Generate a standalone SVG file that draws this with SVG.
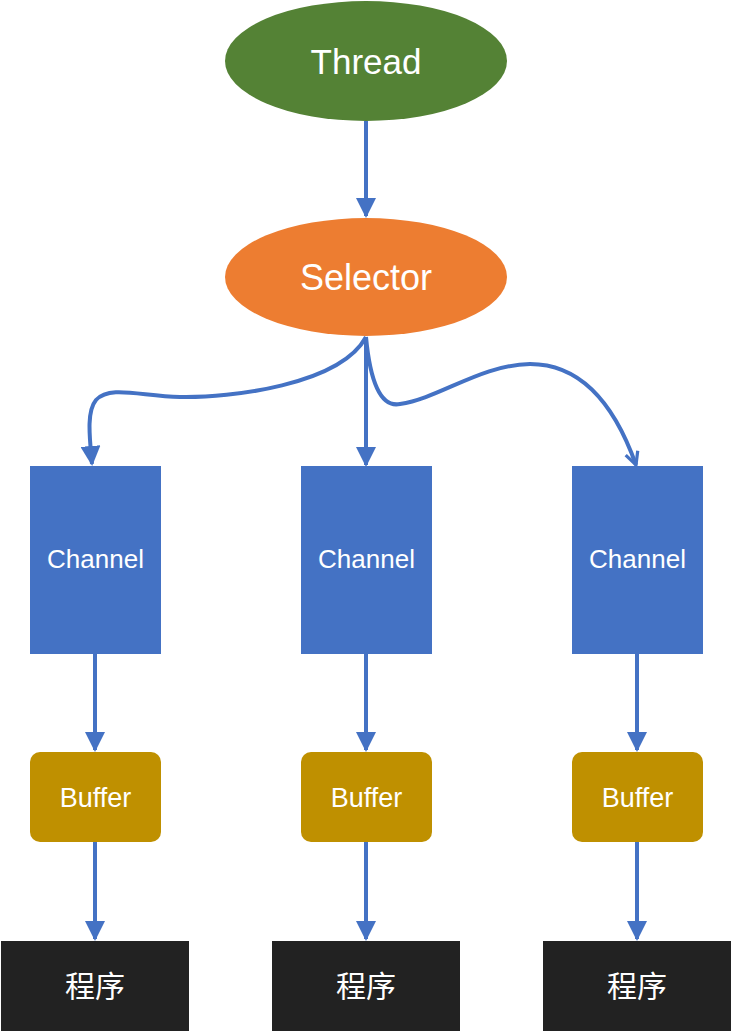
<svg xmlns="http://www.w3.org/2000/svg" width="733" height="1033" viewBox="0 0 733 1033">
<style>
.t{font-family:"Liberation Sans","Noto Sans CJK SC",sans-serif;fill:#fff;text-anchor:middle}
.c{fill:none;stroke:#4472C4;stroke-width:4}
.ch{fill:#4472C4}
.bf{fill:#BF9000}
.pg{fill:#222222}
</style>
<defs>
<marker id="ah" viewBox="0 0 10 10" refX="9" refY="5" markerWidth="5" markerHeight="5" markerUnits="strokeWidth" orient="auto">
<path d="M0,0 L10,5 L0,10 z" fill="#4472C4"/>
</marker>
<marker id="av" viewBox="0 0 10 10" refX="9" refY="5" markerWidth="4" markerHeight="4" markerUnits="strokeWidth" orient="auto">
<path d="M1,1 L9,5 L1,9" fill="none" stroke="#4472C4" stroke-width="2"/>
</marker>
</defs>
<rect width="733" height="1033" fill="#fff"/>
<g id="connectors">
<path class="c" d="M366,121 L366,216" marker-end="url(#ah)"/>
<path class="c" d="M366,337 L366,465" marker-end="url(#ah)"/>
<path class="c" d="M366,337 C340,385 230,398 180,397 C140,396 110,385 96,400 C86,412 90,440 92,464" marker-end="url(#ah)"/>
<path class="c" d="M366,337 C370,380 380,408 400,404 C440,398 480,365 530,364 C590,364 620,420 636,465" marker-end="url(#av)"/>
<path class="c" d="M95,654 L95,750" marker-end="url(#ah)"/>
<path class="c" d="M366,654 L366,750" marker-end="url(#ah)"/>
<path class="c" d="M637,654 L637,750" marker-end="url(#ah)"/>
<path class="c" d="M95,842 L95,939" marker-end="url(#ah)"/>
<path class="c" d="M366,842 L366,939" marker-end="url(#ah)"/>
<path class="c" d="M637,842 L637,939" marker-end="url(#ah)"/>
</g>
<g id="thread">
<ellipse cx="366" cy="61" rx="141" ry="60" fill="#548235"/>
<text class="t" x="366" y="74" font-size="35">Thread</text>
</g>
<g id="selector">
<ellipse cx="366" cy="277" rx="141" ry="59" fill="#ED7D31"/>
<text class="t" x="366" y="290" font-size="36">Selector</text>
</g>
<g id="channel1"><rect class="ch" x="30" y="466" width="131" height="188"/><text class="t" x="95.5" y="568" font-size="26">Channel</text></g>
<g id="channel2"><rect class="ch" x="301" y="466" width="131" height="188"/><text class="t" x="366.5" y="568" font-size="26">Channel</text></g>
<g id="channel3"><rect class="ch" x="572" y="466" width="131" height="188"/><text class="t" x="637.5" y="568" font-size="26">Channel</text></g>
<g id="buffer1"><rect class="bf" x="30" y="752" width="131" height="90" rx="10"/><text class="t" x="95.5" y="807" font-size="27">Buffer</text></g>
<g id="buffer2"><rect class="bf" x="301" y="752" width="131" height="90" rx="10"/><text class="t" x="366.5" y="807" font-size="27">Buffer</text></g>
<g id="buffer3"><rect class="bf" x="572" y="752" width="131" height="90" rx="10"/><text class="t" x="637.5" y="807" font-size="27">Buffer</text></g>
<g id="prog1"><rect class="pg" x="1" y="941" width="188" height="90"/><text class="t" x="95" y="997" font-size="30">程序</text></g>
<g id="prog2"><rect class="pg" x="272" y="941" width="188" height="90"/><text class="t" x="366" y="997" font-size="30">程序</text></g>
<g id="prog3"><rect class="pg" x="543" y="941" width="188" height="90"/><text class="t" x="637" y="997" font-size="30">程序</text></g>
</svg>
